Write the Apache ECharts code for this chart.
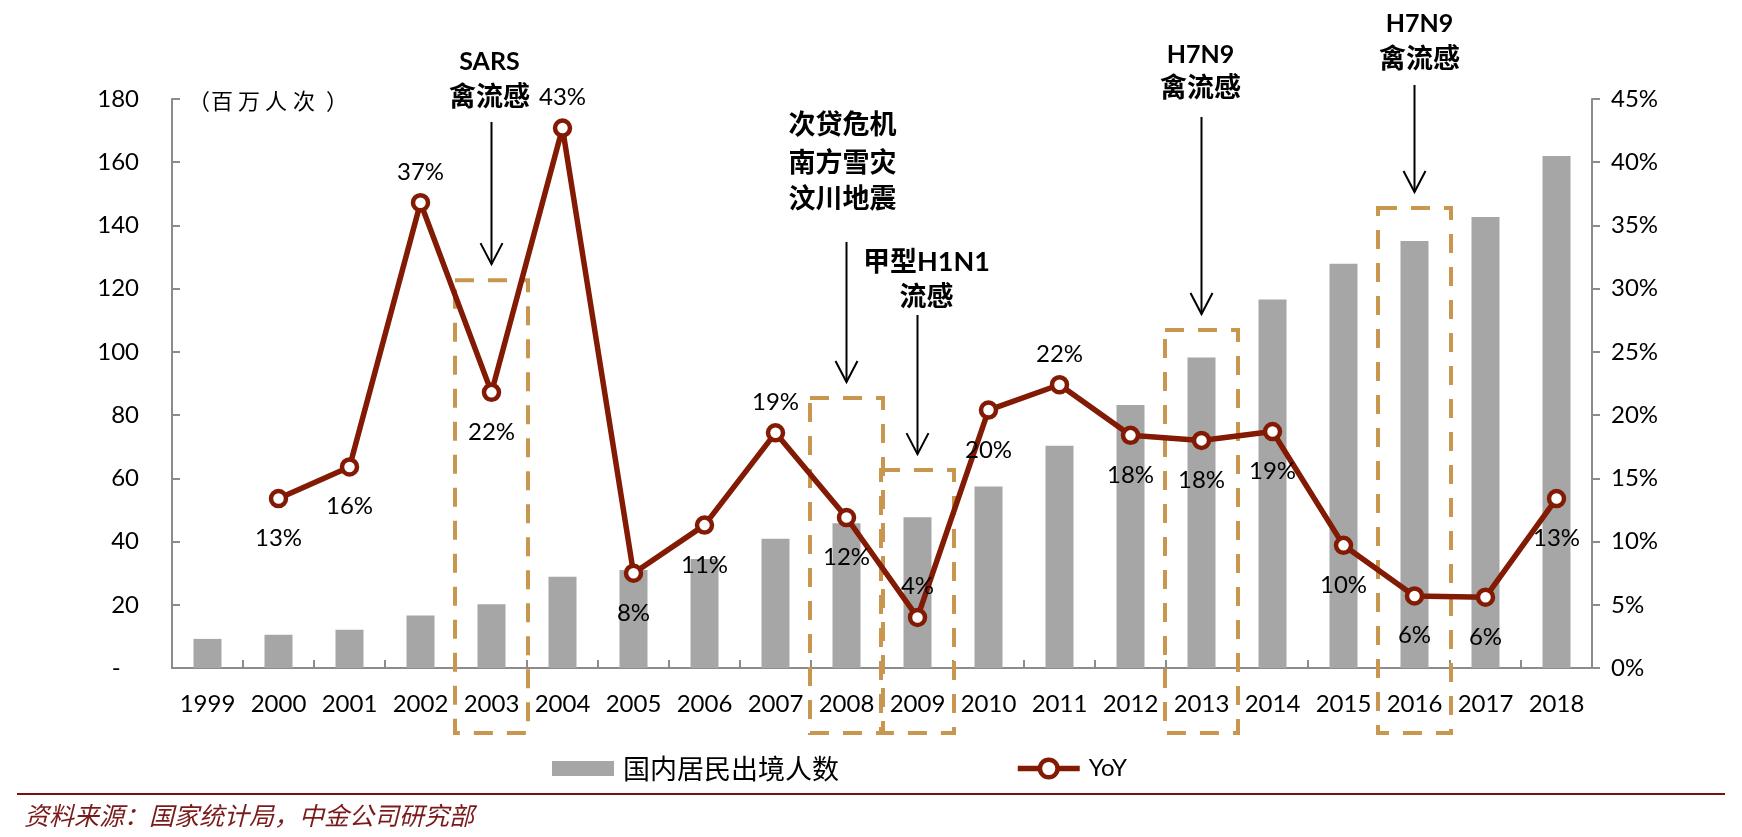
<!DOCTYPE html>
<html>
<head>
<meta charset="utf-8">
<script src="https://cdn.jsdelivr.net/npm/echarts@6/dist/echarts.min.js"></script>
<style>
html,body{margin:0;padding:0;background:#fff;}
#c{width:1742px;height:837px;}
</style>
</head>
<body>
<div id="c"></div>
<script>
// ---- data ----
const years = ['1999','2000','2001','2002','2003','2004','2005','2006','2007','2008','2009','2010','2011','2012','2013','2014','2015','2016','2017','2018'];
const travelers = [9.2, 10.5, 12.1, 16.6, 20.2, 28.9, 31.0, 34.5, 40.9, 45.8, 47.7, 57.4, 70.3, 83.2, 98.2, 116.6, 127.9, 135.1, 142.7, 162.0];
const yoy = [null, 13.4, 15.9, 36.8, 21.8, 42.7, 7.5, 11.3, 18.6, 11.9, 4.0, 20.4, 22.4, 18.4, 18.0, 18.7, 9.7, 5.7, 5.6, 13.4];
const leftTicks = [0, 20, 40, 60, 80, 100, 120, 140, 160, 180];
const rightTicks = [0, 5, 10, 15, 20, 25, 30, 35, 40, 45];
const seriesNames = ['国内居民出境人数', 'YoY'];
const unitChars = ['（', '百', '万', '人', '次', '）'];
const sourceText = '资料来源：国家统计局，中金公司研究部';
// event boxes: year, top of box (left-axis value)
const boxYears = ['2003', '2008', '2009', '2013', '2016'];
const boxTops = [122.7, 85.4, 62.6, 106.9, 145.5];
// event annotations
const events = [
  {year: '2003', lines: ['SARS', '禽流感']},
  {year: '2008', lines: ['次贷危机', '南方雪灾', '汶川地震']},
  {year: '2009', lines: ['甲型H1N1', '流感']},
  {year: '2013', lines: ['H7N9', '禽流感']},
  {year: '2016', lines: ['H7N9', '禽流感']}
];

// ---- styles ----
const LAT = 'Lato, "Noto Sans CJK SC", sans-serif';
const CJK = '"Noto Sans CJK SC", sans-serif';
const lineColor = '#821A04';
const boxColor = '#C8964E';
const axisColor = '#8C8C8C';
const aboveYears = ['2002', '2004', '2007', '2009', '2011'];

const chart = echarts.init(document.getElementById('c'), null, {renderer: 'canvas'});

const lineData = yoy.map((v, i) => {
  if (v === null) return null;
  const up = aboveYears.indexOf(years[i]) >= 0;
  return {value: v, label: {position: up ? 'top' : 'bottom', distance: up ? 9 : 18}};
});

chart.setOption({
  animation: false,
  backgroundColor: '#fff',
  textStyle: {fontFamily: LAT},
  grid: {left: 172, right: 150, top: 99, bottom: 169, containLabel: false},
  legend: {
    left: 547, top: 750,
    itemWidth: 62, itemHeight: 22, itemGap: 176,
    textStyle: {color: '#000', fontFamily: LAT, fontSize: 24, padding: [0, 0, 0, 4]},
    data: [
      {name: seriesNames[0], icon: 'path://M0,0L62,0M0,3.5L62,3.5L62,18.5L0,18.5ZM0,22L62,22',
        textStyle: {fontFamily: CJK, fontSize: 27}},
      {name: seriesNames[1], lineStyle: {width: 5.5}, itemStyle: {borderWidth: 4.5}}
    ]
  },
  xAxis: {
    type: 'category',
    data: years,
    axisLine: {lineStyle: {color: axisColor, width: 2}},
    axisTick: {show: true, inside: true, length: 8, lineStyle: {color: axisColor, width: 2}},
    axisLabel: {color: '#000', fontFamily: LAT, fontSize: 24, margin: 24, interval: 0}
  },
  yAxis: [
    {
      type: 'value', min: 0, max: 180, interval: 20,
      axisLine: {show: true, lineStyle: {color: axisColor, width: 2}},
      axisTick: {show: true, inside: true, length: 8, lineStyle: {color: axisColor, width: 2}},
      splitLine: {show: false},
      axisLabel: {color: '#000', fontFamily: LAT, fontSize: 24, margin: 33,
        formatter: v => v === 0 ? '-   ' : String(v)}
    },
    {
      type: 'value', min: 0, max: 45, interval: 5,
      axisLine: {show: true, lineStyle: {color: axisColor, width: 2}},
      axisTick: {show: true, inside: false, length: 8, lineStyle: {color: axisColor, width: 2}},
      splitLine: {show: false},
      axisLabel: {color: '#000', fontFamily: LAT, fontSize: 24, margin: 19, formatter: v => v + '%'}
    }
  ],
  series: [
    {
      name: seriesNames[0], type: 'bar', data: travelers, barWidth: 28,
      itemStyle: {color: '#A6A6A6'}, z: 2
    },
    {
      name: seriesNames[1], type: 'line', yAxisIndex: 1, data: lineData,
      connectNulls: false,
      symbol: 'circle', symbolSize: 15, showAllSymbol: true,
      lineStyle: {color: lineColor, width: 5.5},
      itemStyle: {color: '#fff', borderColor: lineColor, borderWidth: 4.5},
      label: {show: true, color: '#000', fontFamily: LAT, fontSize: 24,
        formatter: p => Math.round(p.value) + '%'},
      z: 4
    }
  ]
});

// ---- annotations positioned via the chart's own scales ----
const gx = c => chart.convertToPixel({xAxisIndex: 0}, c);
const gy = v => chart.convertToPixel({yAxisIndex: 0}, v);
const y0 = gy(0);
const band = gx(years[1]) - gx(years[0]);
const elems = [];

boxYears.forEach((yr, i) => {
  const cx = gx(yr);
  const top = gy(boxTops[i]);
  elems.push({
    type: 'rect', z: 1,
    shape: {x: cx - band / 2 - 1, y: top, width: band + 2, height: y0 + 65 - top},
    style: {fill: 'none', stroke: boxColor, lineWidth: 4, lineDash: [19, 14]}
  });
  // arrow
  const tip = top - 16;
  const arrowTop = {'2003': 122, '2008': 242, '2009': 315, '2013': 117, '2016': 85}[yr];
  elems.push({
    type: 'line', z: 5,
    shape: {x1: cx, y1: arrowTop, x2: cx, y2: tip},
    style: {stroke: '#000', lineWidth: 2}
  });
  elems.push({
    type: 'polyline', z: 5,
    shape: {points: [[cx - 11, tip - 21], [cx, tip], [cx + 11, tip - 21]]},
    style: {stroke: '#000', lineWidth: 2, fill: 'none'}
  });
});

const textPos = {
  '2003': {dx: -2, ys: [62, 97]},
  '2008': {dx: -4, ys: [125, 163, 199]},
  '2009': {dx: 9, ys: [262, 297]},
  '2013': {dx: -1, ys: [55, 88]},
  '2016': {dx: 5, ys: [24, 59]}
};
events.forEach(ev => {
  const cx = gx(ev.year) + textPos[ev.year].dx;
  ev.lines.forEach((t, j) => {
    const isLatin = /^[A-Z0-9]+$/.test(t);
    elems.push({
      type: 'text', z: 6,
      style: {
        text: t, x: cx, y: textPos[ev.year].ys[j],
        align: 'center', verticalAlign: 'middle',
        font: 'bold ' + (isLatin ? '25px ' + LAT : '27px ' + LAT),
        fill: '#000'
      }
    });
  });
});

// unit label, spaced characters
const unitX = [199, 222, 249, 276, 304, 337];
unitChars.forEach((ch, i) => {
  elems.push({
    type: 'text', z: 6,
    style: {text: ch, x: unitX[i], y: 101, align: 'center', verticalAlign: 'middle',
      font: '22px ' + CJK, fill: '#000'}
  });
});
// separator and source
elems.push({
  type: 'line', z: 6,
  shape: {x1: 17, y1: 794, x2: 1725, y2: 794},
  style: {stroke: '#7A1010', lineWidth: 2}
});
elems.push({
  type: 'text', z: 6,
  style: {text: sourceText, x: 24, y: 815, verticalAlign: 'middle', font: 'italic 25px ' + CJK, fill: '#7A1A1A'}
});

chart.setOption({graphic: {elements: elems}});
</script>
</body>
</html>
